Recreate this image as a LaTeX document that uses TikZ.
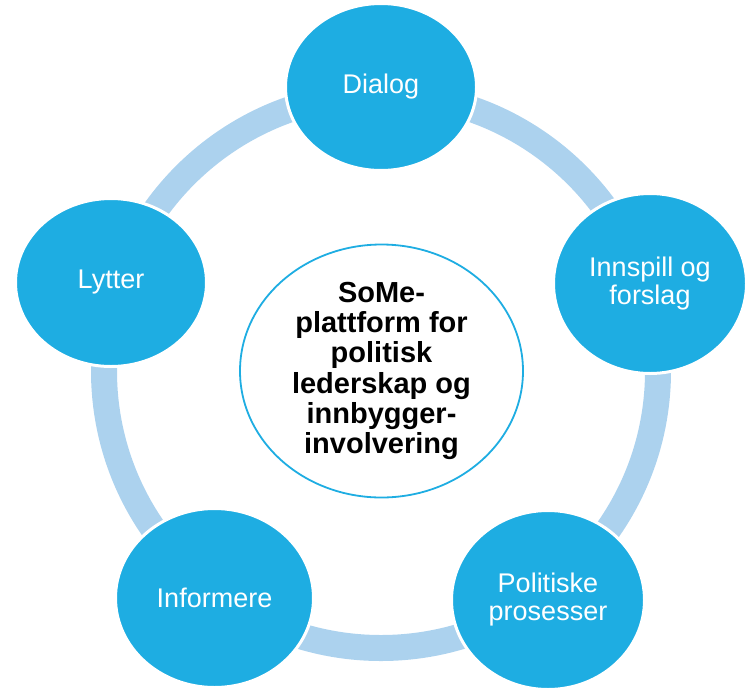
\documentclass[tikz,border=0pt]{standalone}
\usepackage{fontspec}
\setmainfont{Liberation Sans}
\usetikzlibrary{shapes.geometric}
\definecolor{cyanfill}{RGB}{30,173,226}
\definecolor{ringblue}{RGB}{172,210,238}
\tikzset{
  petal/.style={ellipse, fill=cyanfill, draw=white, line width=3pt, inner sep=0pt,
    text=white, align=center, font=\fontsize{27}{28}\selectfont},
  hub/.style={ellipse, fill=white, draw=cyanfill, line width=1.8pt, inner sep=0pt,
    text=black, align=center, font=\fontsize{29}{30.2}\selectfont\bfseries},
  ringband/.style={draw=ringblue, line width=26pt}
}
\begin{document}
\begin{tikzpicture}[x=1pt,y=-1pt]
\useasboundingbox (0,0) rectangle (746,688);
\coordinate (ringc) at (381,371);
\draw[ringband] (ringc) circle (277pt);
\node[hub, minimum width=283pt, minimum height=253pt] (hubnode) at (381.5,371) {SoMe-\\plattform for\\politisk\\lederskap og\\innbygger-\\involvering};
\node[petal, minimum width=191pt, minimum height=167pt] (dialog) at (381,87) {Dialog};
\node[petal, minimum width=193pt, minimum height=180pt] (innspill) at (650,283.5) {Innspill og\\forslag};
\node[petal, minimum width=193pt, minimum height=179pt] (politiske) at (548,600) {Politiske\\prosesser};
\node[petal, minimum width=198pt, minimum height=179pt] (informere) at (214.5,598) {Informere};
\node[petal, minimum width=191pt, minimum height=168pt] (lytter) at (111,282.5) {Lytter};
\end{tikzpicture}
\end{document}
